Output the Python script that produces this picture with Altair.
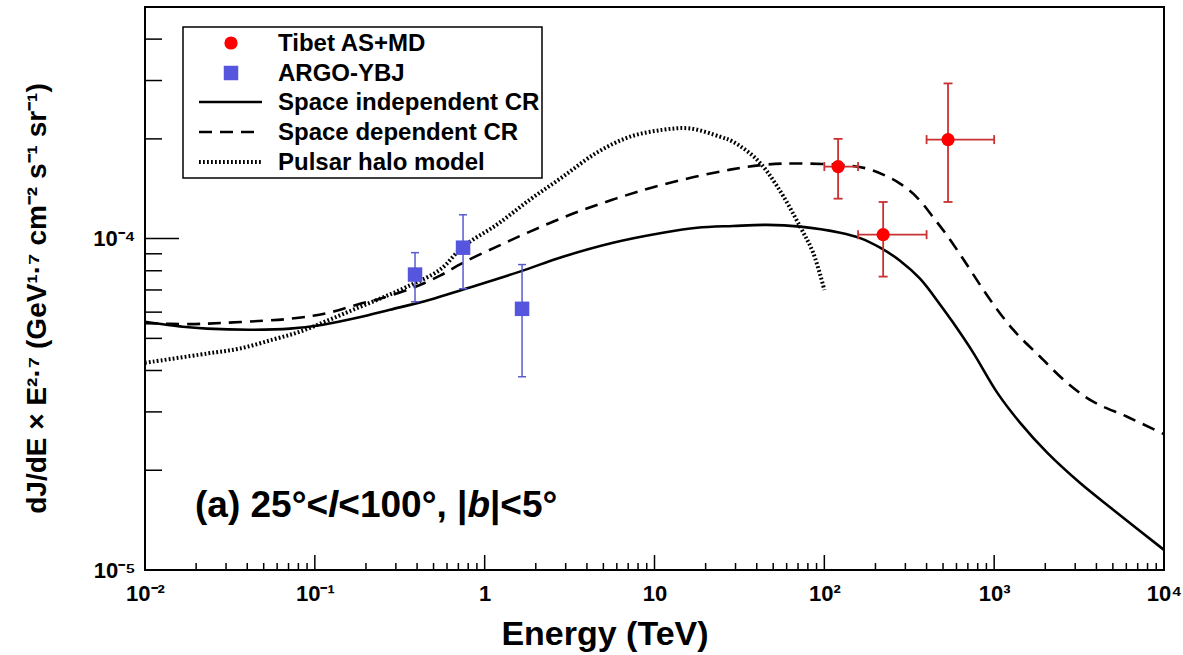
import json
import altair as alt
import pandas as pd

# ---------------- data ----------------
# Space independent CR (solid)
e_solid = [0.01, 0.0167, 0.0232, 0.0415, 0.0714, 0.1117, 0.1774, 0.277, 0.476, 0.746, 1.61,
           2.89, 5.70, 11.2, 17.8, 29.0, 46.0, 72.0, 124, 162.5, 213, 279, 366, 481, 574,
           752, 1042, 1423, 2051, 3208, 5020, 10000]
j_solid = [5.61e-5, 5.42e-5, 5.35e-5, 5.31e-5, 5.35e-5, 5.50e-5, 5.77e-5, 6.10e-5, 6.54e-5,
           7.02e-5, 7.95e-5, 8.82e-5, 9.72e-5, 1.042e-4, 1.079e-4, 1.092e-4, 1.100e-4,
           1.087e-4, 1.042e-4, 1.0035e-4, 9.39e-5, 8.58e-5, 7.57e-5, 6.32e-5, 5.57e-5,
           4.53e-5, 3.43e-5, 2.78e-5, 2.26e-5, 1.83e-5, 1.52e-5, 1.15e-5]

# Space dependent CR (dashed)
e_dash = [0.01, 0.0184, 0.0288, 0.0495, 0.0714, 0.0975, 0.128, 0.177, 0.242, 0.379, 0.546,
          0.746, 1.18, 1.85, 3.18, 5.70, 11.2, 27.9, 46.0, 72.0, 142, 179, 222, 279, 352,
          449, 529, 631, 723, 947, 1294, 1866, 2692, 3830, 6070, 10000]
j_dash = [5.56e-5, 5.52e-5, 5.57e-5, 5.65e-5, 5.73e-5, 5.85e-5, 6.02e-5, 6.32e-5, 6.59e-5,
          7.11e-5, 7.73e-5, 8.46e-5, 9.46e-5, 1.05e-4, 1.18e-4, 1.312e-4, 1.456e-4, 1.615e-4,
          1.674e-4, 1.686e-4, 1.66e-4, 1.626e-4, 1.56e-4, 1.466e-4, 1.33e-4, 1.14e-4,
          1.021e-4, 8.95e-5, 8.05e-5, 6.54e-5, 5.31e-5, 4.40e-5, 3.67e-5, 3.22e-5, 2.90e-5,
          2.57e-5]

# Pulsar halo model (dotted)
e_dot = [0.01, 0.0232, 0.0362, 0.0567, 0.0818, 0.118, 0.168, 0.242, 0.349, 0.546, 0.746,
         1.18, 1.85, 2.90, 4.59, 7.18, 11.2, 16.2, 24.3, 29.0, 40.2, 52.7, 72.0, 85.9, 100]
j_dot = [4.22e-5, 4.50e-5, 4.66e-5, 4.96e-5, 5.24e-5, 5.65e-5, 6.10e-5, 6.59e-5, 7.16e-5,
         8.06e-5, 9.46e-5, 1.102e-4, 1.312e-4, 1.54e-4, 1.82e-4, 2.03e-4, 2.13e-4, 2.15e-4,
         2.03e-4, 1.96e-4, 1.73e-4, 1.44e-4, 1.087e-4, 9.07e-5, 7.0e-5]

# Tibet AS+MD
tibet_e = [120.5, 222, 535]
tibet_j = [1.65e-4, 1.028e-4, 1.99e-4]
tibet_jlo = [1.32e-4, 7.68e-5, 1.29e-4]
tibet_jhi = [2.00e-4, 1.29e-4, 2.94e-4]
tibet_elo = [100, 158, 400]
tibet_ehi = [158, 400, 1000]

# ARGO-YBJ
argo_e = [0.389, 0.746, 1.66]
argo_j = [7.79e-5, 9.39e-5, 6.14e-5]
argo_jlo = [6.45e-5, 7.06e-5, 3.83e-5]
argo_jhi = [9.07e-5, 1.18e-4, 8.35e-5]

# axis ticks and labels
x_label_vals = [0.01, 0.1, 1, 10, 100, 1000, 10000]
x_label_text = ["10\u207b\u00b2", "10\u207b\u00b9", "1", "10", "10\u00b2", "10\u00b3", "10\u2074"]
x_major = [0.1, 1, 10, 100, 1000]
x_minor = [k * 10.0 ** d for d in range(-2, 4) for k in range(2, 10)]
y_label_vals = [1e-5, 1e-4]
y_label_text = ["10\u207b\u2075", "10\u207b\u2074"]
y_major = [1e-4]
y_minor = [k * 1e-5 for k in range(2, 10)] + [k * 1e-4 for k in range(2, 5)]

legend_labels = ["Tibet AS+MD", "ARGO-YBJ", "Space independent CR",
                 "Space dependent CR", "Pulsar halo model"]

# ---------------- layout ----------------
W, H = 1019, 563
FONT = "Liberation Sans"
xscale = alt.Scale(type="log", domain=[0.01, 10000])
yscale = alt.Scale(type="log", domain=[1e-5, 5e-4])
INTERP = "catmull-rom"
DOT_W, DOT_DASH = 4, [1.8, 2.2]

x_expr = json.dumps(x_label_text, ensure_ascii=False) + "[round(log(datum.value)/LN10)+2]"
y_expr = json.dumps(y_label_text, ensure_ascii=False) + "[round(log(datum.value)/LN10)+5]"

xaxis = alt.Axis(title="Energy (TeV)", values=x_label_vals, labelExpr=x_expr, grid=False,
                 ticks=False, tickSize=0, domain=False, labelFontSize=22,
                 labelFontWeight="bold", labelPadding=13, labelFlush=False,
                 labelOverlap=False, labelColor="black", titleColor="black",
                 titleFontSize=34, titleFontWeight="bold", titleX=459.5, titleY=74,
                 titleAlign="center", titleBaseline="alphabetic")
ytitle = "dJ/dE \u00d7 E\u00b2\u00b7\u2077 (GeV\u00b9\u00b7\u2077 cm\u207b\u00b2 s\u207b\u00b9 sr\u207b\u00b9)"
yaxis = alt.Axis(title=ytitle, values=y_label_vals, labelExpr=y_expr, grid=False,
                 ticks=False, tickSize=0, domain=False, labelFontSize=22,
                 labelFontWeight="bold", labelPadding=10, labelFlush=False,
                 labelOverlap=False, labelColor="black", titleColor="black",
                 titleFontSize=28, titleFontWeight="bold", titleAngle=270,
                 titleX=-100, titleY=291, titleAlign="center", titleBaseline="alphabetic")


def X(f):
    return alt.X(f, type="quantitative", scale=xscale, axis=xaxis)


def Y(f):
    return alt.Y(f, type="quantitative", scale=yscale, axis=yaxis)


layers = []

# curves
solid = alt.Chart(pd.DataFrame({"E": e_solid, "J": j_solid})).mark_line(
    color="black", strokeWidth=2.6, interpolate=INTERP).encode(x=X("E"), y=Y("J"))
dash = alt.Chart(pd.DataFrame({"E": e_dash, "J": j_dash})).mark_line(
    color="black", strokeWidth=2.6, strokeDash=[13, 8], interpolate=INTERP).encode(
    x=X("E"), y=Y("J"))
dot = alt.Chart(pd.DataFrame({"E": e_dot, "J": j_dot})).mark_line(
    color="black", strokeWidth=DOT_W, strokeDash=DOT_DASH, interpolate=INTERP).encode(
    x=X("E"), y=Y("J"))
layers += [solid, dash, dot]

# axis ticks (inside, ROOT style)
layers.append(alt.Chart(pd.DataFrame({"v": x_major})).mark_rule(color="black", strokeWidth=1.5)
              .encode(x=X("v"), y=alt.value(H), y2=alt.value(H - 15)))
layers.append(alt.Chart(pd.DataFrame({"v": x_minor})).mark_rule(color="black", strokeWidth=1.5)
              .encode(x=X("v"), y=alt.value(H), y2=alt.value(H - 7)))
layers.append(alt.Chart(pd.DataFrame({"v": y_major})).mark_rule(color="black", strokeWidth=1.5)
              .encode(y=Y("v"), x=alt.value(0), x2=alt.value(34)))
layers.append(alt.Chart(pd.DataFrame({"v": y_minor})).mark_rule(color="black", strokeWidth=1.5)
              .encode(y=Y("v"), x=alt.value(0), x2=alt.value(17)))

# ARGO-YBJ error bars and markers
argo_df = pd.DataFrame({"E": argo_e, "J": argo_j, "lo": argo_jlo, "hi": argo_jhi})
argo_col = "#5a5ad2"
layers.append(alt.Chart(argo_df).mark_rule(color=argo_col, strokeWidth=1.5)
              .encode(x=X("E"), y=Y("lo"), y2="hi"))
argo_caps = pd.DataFrame({"E": argo_e + argo_e, "J": argo_jlo + argo_jhi})
layers.append(alt.Chart(argo_caps).mark_tick(color=argo_col, orient="horizontal", size=8,
                                             thickness=1.5, opacity=1)
              .encode(x=X("E"), y=Y("J")))
layers.append(alt.Chart(argo_df).mark_point(shape="square", filled=True, size=210,
                                            color="#5555dd", opacity=1)
              .encode(x=X("E"), y=Y("J")))

# Tibet AS+MD error bars and markers
tib_df = pd.DataFrame({"E": tibet_e, "J": tibet_j, "lo": tibet_jlo, "hi": tibet_jhi,
                       "elo": tibet_elo, "ehi": tibet_ehi})
tib_col = "#c83232"
layers.append(alt.Chart(tib_df).mark_rule(color=tib_col, strokeWidth=1.8)
              .encode(x=X("E"), y=Y("lo"), y2="hi"))
layers.append(alt.Chart(tib_df).mark_rule(color=tib_col, strokeWidth=1.8)
              .encode(x=X("elo"), x2="ehi", y=Y("J")))
tib_ycaps = pd.DataFrame({"E": tibet_e + tibet_e, "J": tibet_jlo + tibet_jhi})
layers.append(alt.Chart(tib_ycaps).mark_tick(color=tib_col, orient="horizontal", size=9,
                                             thickness=1.8, opacity=1)
              .encode(x=X("E"), y=Y("J")))
tib_xcaps = pd.DataFrame({"E": tibet_elo + tibet_ehi, "J": tibet_j + tibet_j})
layers.append(alt.Chart(tib_xcaps).mark_tick(color=tib_col, orient="vertical", size=9,
                                             thickness=1.8, opacity=1)
              .encode(x=X("E"), y=Y("J")))
layers.append(alt.Chart(tib_df).mark_point(shape="circle", filled=True, size=175,
                                           color="#ff0000", opacity=1)
              .encode(x=X("E"), y=Y("J")))

# ---------------- legend (drawn by hand, ROOT style) ----------------
dummy = pd.DataFrame({"d": [0]})


def txt(text, x, y, size, italic=False, baseline="middle"):
    return alt.Chart(dummy).mark_text(
        text=text, font=FONT, fontSize=size, fontWeight="bold",
        fontStyle="italic" if italic else "normal", align="left", baseline=baseline,
        color="black").encode(x=alt.value(x), y=alt.value(y))


layers.append(alt.Chart(dummy).mark_rect(fill="white", stroke="black", strokeWidth=1.5)
              .encode(x=alt.value(38), x2=alt.value(397), y=alt.value(20), y2=alt.value(171)))
rows = [36, 66, 95, 125, 155]
layers.append(alt.Chart(dummy).mark_point(shape="circle", filled=True, size=175,
                                          color="#ff0000", opacity=1)
              .encode(x=alt.value(86), y=alt.value(rows[0])))
layers.append(alt.Chart(dummy).mark_point(shape="square", filled=True, size=210,
                                          color="#5555dd", opacity=1)
              .encode(x=alt.value(86), y=alt.value(rows[1])))
layers.append(alt.Chart(dummy).mark_rule(color="black", strokeWidth=2.6)
              .encode(x=alt.value(54), x2=alt.value(117), y=alt.value(rows[2])))
layers.append(alt.Chart(dummy).mark_rule(color="black", strokeWidth=2.6, strokeDash=[13, 8])
              .encode(x=alt.value(54), x2=alt.value(117), y=alt.value(rows[3])))
layers.append(alt.Chart(dummy).mark_rule(color="black", strokeWidth=DOT_W, strokeDash=DOT_DASH)
              .encode(x=alt.value(54), x2=alt.value(117), y=alt.value(rows[4])))
for lab, ry in zip(legend_labels, rows):
    layers.append(txt(lab, 133, ry + 1, 24))

# ---------------- region annotation ----------------
ann_size = 37
segments = [("(a) 25\u00b0<", False, 3.596), ("l", True, 0.278),
            ("<100\u00b0, |", False, 3.488), ("b", True, 0.611), ("|<5\u00b0", False, 1.82)]
ax0 = 50
for seg, it, em in segments:
    layers.append(txt(seg, ax0, 510, ann_size, italic=it, baseline="alphabetic"))
    ax0 += em * ann_size

chart = alt.layer(*layers).properties(
    width=W, height=H,
    autosize=alt.AutoSizeParams(type="none"),
    padding={"left": 145, "top": 7, "right": 19, "bottom": 85},
    background="white",
).configure(font=FONT).configure_view(stroke="black", strokeWidth=2)

chart.save("out.html", embed_options={"renderer": "svg", "actions": False})
